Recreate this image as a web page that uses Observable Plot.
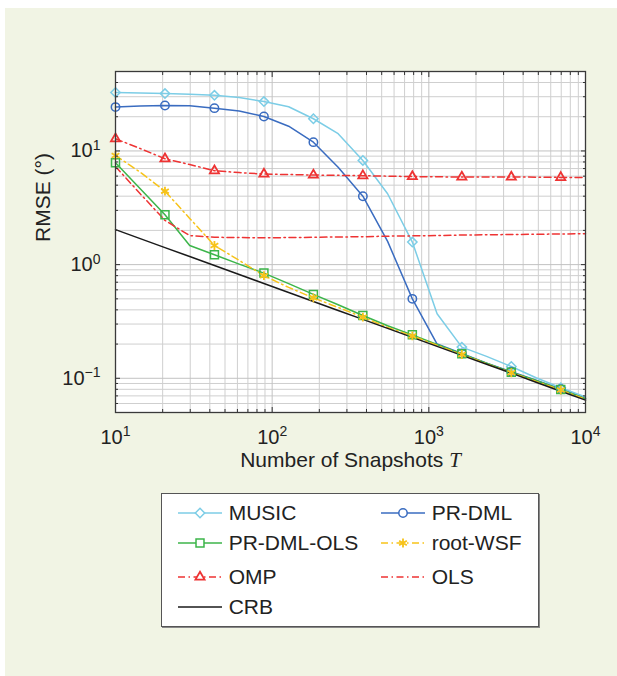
<!DOCTYPE html>
<html><head><meta charset="utf-8">
<script src="https://cdn.jsdelivr.net/npm/d3@7"></script>
<script src="https://cdn.jsdelivr.net/npm/@observablehq/plot@0.6"></script>
<style>
html,body{margin:0;padding:0;background:#fff;}
#page{position:relative;width:617px;height:676px;overflow:hidden;font-family:"Liberation Sans",Arial,Helvetica,sans-serif;}
#bg{position:absolute;left:5px;top:8px;right:0;bottom:0;background:#f1f4e4;}
#chart{position:absolute;left:0;top:0;}
#legend{position:absolute;left:161px;top:493px;width:376px;height:132px;background:#fff;border:1px solid #555;box-shadow:1px 1px 0 #888;}
.item{position:absolute;height:30px;display:flex;align-items:center;font-size:21px;color:#222;white-space:nowrap;}
.item svg{margin-right:7px;}
</style></head>
<body><div id="page"><div id="bg"></div><div id="chart"></div><div id="legend"></div></div>
<script>
// Number of snapshots T (20 points, log-spaced)
const T = [10, 14.38, 20.69, 29.76, 42.81, 61.58, 88.59, 127.4, 183.3, 263.7, 379.3, 545.6, 784.8, 1129, 1624, 2336, 3360, 4833, 6952, 10000];

// RMSE (degrees) per method
const MUSIC = [32.7, 32.3, 32.0, 31.5, 30.9, 29.5, 27.2, 24.5, 19.2, 14.2, 8.25, 4.2, 1.58, 0.37, 0.188, 0.156, 0.127, 0.101, 0.0826, 0.0684];
const PR_DML = [24.3, 24.8, 25.1, 25.0, 23.8, 22.5, 20.1, 16.5, 11.95, 7.2, 4.0, 1.6, 0.50, 0.20, 0.165, 0.136, 0.114, 0.096, 0.080, 0.066];
const PR_DML_OLS = [7.87, 4.65, 2.75, 1.475, 1.22, 1.01, 0.842, 0.68, 0.547, 0.443, 0.357, 0.29, 0.241, 0.198, 0.164, 0.136, 0.113, 0.0955, 0.0796, 0.066];
const ROOT_WSF = [9.12, 6.5, 4.43, 2.55, 1.475, 1.09, 0.80, 0.63, 0.51, 0.42, 0.345, 0.28, 0.236, 0.195, 0.162, 0.134, 0.112, 0.094, 0.0788, 0.0655];
const OMP = [12.8, 10.5, 8.53, 7.6, 6.7, 6.45, 6.26, 6.2, 6.14, 6.1, 6.06, 6.0, 5.95, 5.92, 5.9, 5.9, 5.9, 5.88, 5.85, 5.85];
const OLS = [7.3, 4.2, 2.45, 1.80, 1.74, 1.73, 1.72, 1.73, 1.74, 1.75, 1.76, 1.78, 1.79, 1.80, 1.82, 1.83, 1.84, 1.85, 1.86, 1.87];
const CRB = [2.03, 1.693, 1.411, 1.177, 0.981, 0.818, 0.682, 0.569, 0.474, 0.395, 0.330, 0.275, 0.229, 0.191, 0.159, 0.133, 0.111, 0.0923, 0.0770, 0.0642];

// Axis ticks
const xMajor = [10, 100, 1000, 10000];
const yMajor = [0.1, 1, 10];
const xTickLabels = ["10^1", "10^2", "10^3", "10^4"];
const yTickLabels = ["10^-1", "10^0", "10^1"];

// Styles
const series = [
  {name: "MUSIC", values: MUSIC, color: "#7ccde6", dash: null, symbol: "diamond2", r: 4.2, sw: 1.5},
  {name: "PR-DML", values: PR_DML, color: "#3a6cc0", dash: null, symbol: "circle", r: 4.2, sw: 1.5},
  {name: "PR-DML-OLS", values: PR_DML_OLS, color: "#3cb54a", dash: null, symbol: "square", r: 4.5, sw: 1.5},
  {name: "root-WSF", values: ROOT_WSF, color: "#f7c31a", dash: "7,3.5,1.5,3.5", symbol: "asterisk", r: 4.2, sw: 1.8},
  {name: "OMP", values: OMP, color: "#ee3333", dash: "7,3.5,1.5,3.5", symbol: "triangle", r: 3.4, sw: 1.8},
  {name: "OLS", values: OLS, color: "#ee3333", dash: "7,3.5,1.5,3.5", symbol: null},
  {name: "CRB", values: CRB, color: "#1a1a1a", dash: null, symbol: null}
];

const xMinor = [];
for (const d of [10, 100, 1000]) for (let k = 2; k <= 9; k++) xMinor.push(d * k);
const yMinor = [];
for (const d of [0.01, 0.1, 1, 10]) for (let k = 2; k <= 9; k++) { const v = +(d * k).toPrecision(3); if (v > 0.05 && v < 50) yMinor.push(v); }

const marks = [
  Plot.frame({fill: "white"}),
  Plot.ruleX(xMinor, {stroke: "#cfcfcf", strokeWidth: 1}),
  Plot.ruleY(yMinor, {stroke: "#cfcfcf", strokeWidth: 1}),
  Plot.ruleX(xMajor, {stroke: "#c2c2c2", strokeWidth: 1}),
  Plot.ruleY(yMajor, {stroke: "#c2c2c2", strokeWidth: 1})
];

for (const s of series) {
  const rows = s.values.map((v, i) => ({T: T[i], v, i}));
  marks.push(Plot.line(rows, {x: "T", y: "v", stroke: s.color, strokeWidth: 1.5, strokeDasharray: s.dash}));
}
for (const s of series) {
  if (!s.symbol) continue;
  const rows = s.values.map((v, i) => ({T: T[i], v, i}));
  marks.push(Plot.dot(rows, {x: "T", y: "v", filter: d => d.i % 2 === 0, symbol: s.symbol, r: s.r, stroke: s.color, fill: "none", strokeWidth: s.sw}));
}

// ticks (inward) on all four sides
const noText = () => "";
marks.push(
  Plot.axisX(xMajor, {anchor: "bottom", tickSize: -5, tickFormat: noText, label: null, stroke: "#333"}),
  Plot.axisX(xMinor, {anchor: "bottom", tickSize: -3, tickFormat: noText, label: null, stroke: "#333"}),
  Plot.axisX(xMajor, {anchor: "top", tickSize: -5, tickFormat: noText, label: null, stroke: "#333"}),
  Plot.axisX(xMinor, {anchor: "top", tickSize: -3, tickFormat: noText, label: null, stroke: "#333"}),
  Plot.axisY(yMajor, {anchor: "left", tickSize: -5, tickFormat: noText, label: null, stroke: "#333"}),
  Plot.axisY(yMinor, {anchor: "left", tickSize: -3, tickFormat: noText, label: null, stroke: "#333"}),
  Plot.axisY(yMajor, {anchor: "right", tickSize: -5, tickFormat: noText, label: null, stroke: "#333"}),
  Plot.axisY(yMinor, {anchor: "right", tickSize: -3, tickFormat: noText, label: null, stroke: "#333"}),
  Plot.axisX(xMajor, {anchor: "bottom", tickSize: 0, tickPadding: 17, tickFormat: d => xTickLabels[xMajor.indexOf(d)], label: null, fontSize: 20, fill: "#222"}),
  Plot.axisY(yMajor, {anchor: "left", tickSize: 0, tickPadding: 15, tickFormat: d => yTickLabels[yMajor.indexOf(d)], label: null, fontSize: 20, fill: "#222"}),
  Plot.frame({stroke: "#3a3a3a", strokeWidth: 1.3}),
  Plot.text(["RMSE (°)"], {frameAnchor: "left", dx: -72, rotate: -90, fontSize: 21, fill: "#222"}),
  Plot.text(["Number of Snapshots "], {frameAnchor: "bottom", dy: 54, fontSize: 21, fill: "#222"})
);

const chart = Plot.plot({
  width: 617, height: 490,
  marginLeft: 115, marginRight: 32, marginTop: 71, marginBottom: 78,
  style: {background: "transparent", fontFamily: "'Liberation Sans', Arial, Helvetica, sans-serif", fontSize: "20px", overflow: "visible"},
  x: {type: "log", domain: [10, 10000]},
  y: {type: "log", domain: [0.05, 50]},
  marks
});
document.getElementById("chart").appendChild(chart);

// superscripts in tick labels
const NS = "http://www.w3.org/2000/svg";
chart.querySelectorAll("text").forEach(t => {
  const s = t.textContent;
  if (/^10\^/.test(s)) {
    const [b, e] = s.split("^");
    while (t.firstChild) t.removeChild(t.firstChild);
    const t1 = document.createElementNS(NS, "tspan"); t1.textContent = b;
    const t2 = document.createElementNS(NS, "tspan"); t2.textContent = e.replace("-", "\u2212");
    t2.setAttribute("font-size", "14"); t2.setAttribute("dy", "-7.5");
    t.append(t1, t2);
  } else if (s.startsWith("Number of Snapshots")) {
    // italic T in x title
    const ts = document.createElementNS(NS, "tspan");
    ts.textContent = "T";
    ts.setAttribute("font-style", "italic");
    ts.setAttribute("font-family", "'Liberation Serif', 'Times New Roman', serif");
    t.appendChild(ts);
  }
});

// Legend
const legend = document.getElementById("legend");
const legendPos = [
  [15.7, 19.3], [218.7, 19.3],
  [15.7, 49.3], [218.7, 49.3],
  [15.7, 82.7], [218.7, 82.7],
  [15.7, 112.7]
];
series.forEach((s, k) => {
  const [lx, cy] = legendPos[k];
  const item = document.createElement("div");
  item.className = "item";
  item.style.left = lx + "px";
  item.style.top = (cy - 15) + "px";
  const sw = d3.create("svg").attr("width", 44).attr("height", 20);
  sw.append("line").attr("x1", 0).attr("x2", 44).attr("y1", 10).attr("y2", 10)
    .attr("stroke", s.color).attr("stroke-width", 1.5).attr("stroke-dasharray", s.dash);
  if (s.symbol) {
    const symMap = {diamond2: d3.symbolDiamond2, circle: d3.symbolCircle, square: d3.symbolSquare, asterisk: d3.symbolAsterisk, triangle: d3.symbolTriangle};
    sw.append("path").attr("transform", "translate(22,10)")
      .attr("d", d3.symbol(symMap[s.symbol], s.r * s.r * Math.PI)())
      .attr("fill", s.symbol === "asterisk" ? s.color : "white").attr("stroke", s.color).attr("stroke-width", s.sw);
  }
  item.appendChild(sw.node());
  const span = document.createElement("span");
  span.textContent = s.name;
  item.appendChild(span);
  legend.appendChild(item);
});
</script>
</body></html>
